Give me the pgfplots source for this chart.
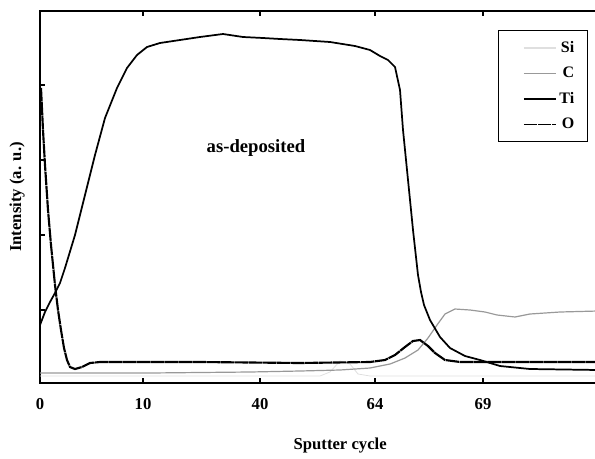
\documentclass[border=0pt]{standalone}
\usepackage{fontspec}
\setmainfont{Liberation Serif}
\usepackage{pgfplots}
\pgfplotsset{compat=1.18}
\begin{document}
\begin{tikzpicture}[x=0.75pt,y=0.75pt]
\useasboundingbox (0,0) rectangle (595,458);
\begin{axis}[
  at={(30pt,56.25pt)}, anchor=south west,
  scale only axis, width=418.5pt, height=279pt,
  xmin=40, xmax=598, ymin=75, ymax=447,
  axis line style={line width=1pt},
  xtick={40,143,260,375,483},
  xticklabels={0,10,40,64,69},
  ytick={148,223,298,373}, yticklabels={},
  ytick pos=left,
  tick align=inside, major tick length=4pt,
  tick style={black, line width=0.8pt},
  /pgf/number format/assume math mode=true,
  ticklabel style={font=\fontsize{12.5}{14}\selectfont\bfseries},
  xticklabel style={yshift=-8pt},
  xlabel={Sputter cycle},
  xlabel style={at={(axis description cs:0.538,-0.18)}, anchor=base, font=\fontsize{12.5}{14}\selectfont\bfseries},
  ylabel={Intensity (a. u.)},
  ylabel style={at={(axis description cs:-0.041,0.5)}, anchor=center, font=\fontsize{12.5}{14}\selectfont\bfseries},
  legend style={at={(rel axis cs:0.821,0.949)}, anchor=north west, draw=black, line width=1pt,
    font=\fontsize{12}{14}\selectfont\bfseries, row sep=5.5pt, inner xsep=8pt, inner ysep=6pt,
    cells={anchor=east}},
  legend cell align=right,
  legend image code/.code={\path (0pt,0pt); \draw[#1, line width=1.3pt] (10pt,0pt) -- (34pt,0pt);},
  clip=true,
]
\addplot[gray!25, line width=0.6pt] coordinates {
(40,82) (320,82) (330,86) (340,97) (350,94) (358,84) (370,82) (598,82)};
\addlegendentry{Si}
\addplot[gray!80, line width=0.9pt] coordinates {
(40,85) (150,85) (250,86) (300,87) (340,88) (370,90) (390,94) (405,100) (418,108)
(428,120) (437,133) (445,144) (455,149) (470,148) (485,146) (497,143) (515,141)
(530,144) (560,146) (598,147)};
\addlegendentry{C}
\addplot[black, line width=1.3pt] coordinates {
(40,133) (45,146) (50,156) (55,165) (60,175) (65,190) (75,223) (85,263) (95,303)
(105,340) (117,370) (127,390) (137,403) (147,411) (160,415) (180,418) (200,421)
(223,424) (243,421) (263,420) (280,419) (300,418) (330,416) (355,412) (370,408)
(380,402) (388,398) (395,391) (400,368) (403,328) (408,278) (413,228) (418,183)
(421,166) (424,153) (430,138) (440,121) (450,110) (465,102) (480,98) (500,92)
(530,89) (598,88)};
\addlegendentry{Ti}
\addplot[black, line width=1.6pt, dash pattern=on 10pt off 0.5pt] coordinates {
(41,370) (43,328) (45,293) (48,248) (51,213) (55,173) (58,148) (61,128) (64,110)
(67,98) (70,91) (75,89) (82,91) (90,95) (100,96) (200,96) (300,95) (370,96)
(385,98) (395,103) (405,111) (413,117) (420,118) (428,112) (435,105) (445,98)
(460,96) (500,96) (598,96)};
\addlegendentry{O}
\node[font=\fontsize{14}{16}\selectfont\bfseries] at (axis cs:256,310) {as-deposited};
\end{axis}
\end{tikzpicture}
\end{document}
